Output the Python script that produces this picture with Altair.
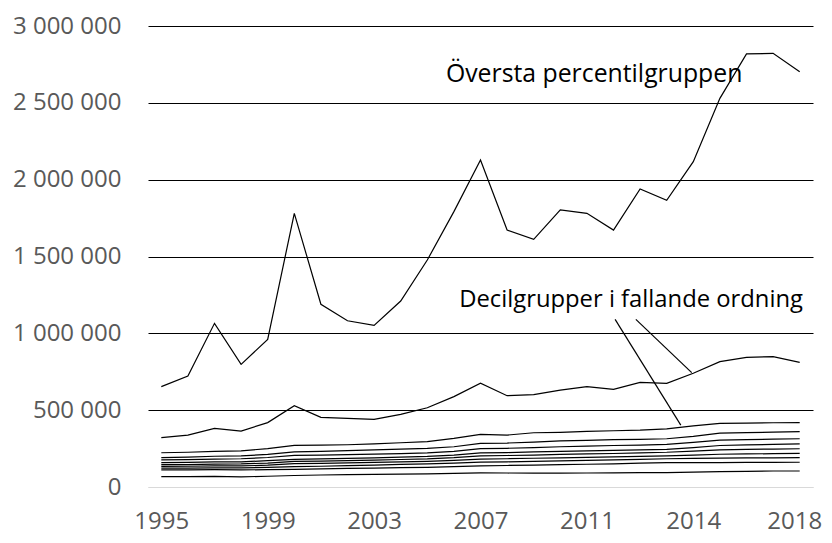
import altair as alt
import pandas as pd

# category index 0..24 along the x axis, labelled every 4th category
idx = list(range(25))
tick_pos = [0, 4, 8, 12, 16, 20, 24]
tick_labels = ["1995", "1999", "2003", "2007", "2011", "2014", "2018"]

top_pct = [653000, 722000, 1065000, 798000, 961000, 1781000, 1189000, 1082000, 1052000,
           1210000, 1477000, 1792000, 2128000, 1672000, 1612000, 1803000, 1781000, 1672000,
           1939000, 1866000, 2117000, 2529000, 2818000, 2822000, 2703000]
d10 = [321000, 338000, 382000, 364000, 419000, 529000, 453000, 447000, 440000, 473000,
       516000, 588000, 675000, 594000, 601000, 631000, 653000, 636000, 681000, 675000,
       740000, 816000, 844000, 848000, 811000]
d9 = [223000, 226000, 232000, 235000, 250000, 271000, 272000, 275000, 280000, 288000,
      295000, 317000, 343000, 338000, 353000, 356000, 362000, 366000, 370000, 378000,
      398000, 414000, 416000, 418000, 419000]
d8 = [191000, 194000, 200000, 203000, 212000, 228000, 232000, 237000, 242000, 247000,
      252000, 262000, 284000, 286000, 292000, 300000, 304000, 308000, 310000, 314000,
      330000, 350000, 354000, 357000, 360000]
d7 = [176000, 178000, 182000, 184000, 192000, 206000, 208000, 211000, 214000, 217000,
      222000, 232000, 250000, 252000, 256000, 262000, 266000, 270000, 273000, 278000,
      290000, 305000, 308000, 311000, 314000]
d6 = [158000, 160000, 163000, 164000, 171000, 180000, 183000, 186000, 190000, 194000,
      199000, 208000, 222000, 224000, 228000, 232000, 235000, 238000, 241000, 245000,
      256000, 270000, 274000, 277000, 280000]
d5 = [145000, 146000, 149000, 150000, 156000, 167000, 169000, 172000, 175000, 179000,
      183000, 191000, 203000, 205000, 208000, 212000, 215000, 218000, 222000, 226000,
      234000, 242000, 245000, 247000, 249000]
d4 = [134000, 135000, 137000, 137000, 142000, 152000, 154000, 157000, 160000, 164000,
      167000, 173000, 182000, 184000, 187000, 190000, 193000, 196000, 199000, 202000,
      208000, 213000, 215000, 217000, 219000]
d3 = [123000, 123000, 125000, 124000, 128000, 132000, 135000, 139000, 142000, 147000,
      150000, 155000, 162000, 164000, 167000, 170000, 173000, 176000, 180000, 184000,
      186000, 188000, 189000, 190000, 191000]
d2 = [112000, 112000, 113000, 111000, 113000, 115000, 118000, 121000, 123000, 126000,
      128000, 133000, 138000, 140000, 143000, 145000, 148000, 151000, 155000, 158000,
      158000, 159000, 160000, 160000, 161000]
d1 = [67000, 68000, 69000, 66000, 70000, 75000, 78000, 80000, 82000, 84000, 86000,
      89000, 92000, 91000, 90000, 90000, 91000, 92000, 93000, 94000, 97000, 100000,
      102000, 104000, 104000]

series = {"P100": top_pct, "D10": d10, "D9": d9, "D8": d8, "D7": d7, "D6": d6,
          "D5": d5, "D4": d4, "D3": d3, "D2": d2, "D1": d1}

# annotations
ann_text = ["Översta percentilgruppen", "Decilgrupper i fallande ordning"]
ann_x = [10.7, 11.2]
ann_y = [2680000, 1217000]

lead_x = [17.84, 17.06]
lead_y = [1091000, 1091000]
lead_x2 = [19.94, 19.53]
lead_y2 = [744000, 403000]

rows = []
for name, vals in series.items():
    for i, v in zip(idx, vals):
        rows.append({"s": name, "i": i, "v": v})
df = pd.DataFrame(rows)

FONT = "Open Sans"
label_expr_x = "[" + ",".join(f"'{t}'" for t in tick_labels) + "][datum.value / 4]"
last = tick_pos[-1]

x_enc = alt.X("i:Q", scale=alt.Scale(domain=[-0.5, 24.5], nice=False, zero=False),
              axis=alt.Axis(values=tick_pos, labelExpr=label_expr_x, grid=False, ticks=False,
                            domainColor="#d9d9d9", domainWidth=1, labelFontSize=24,
                            labelFont=FONT, labelColor="#595959", labelPadding=22,
                            labelAlign={"condition": {"test": f"datum.value === {last}", "value": "right"},
                                        "value": "center"},
                            labelOffset={"condition": {"test": f"datum.value === {last}", "value": 22},
                                         "value": 0},
                            labelFlush=False, title=None))
y_enc = alt.Y("v:Q", scale=alt.Scale(domain=[0, 3000000], nice=False),
              axis=alt.Axis(values=[0, 500000, 1000000, 1500000, 2000000, 2500000, 3000000],
                            labelExpr="replace(format(datum.value, ','), /,/g, ' ')",
                            grid=True,
                            gridColor={"condition": {"test": "datum.value === 0", "value": "#d9d9d9"},
                                       "value": "#000000"},
                            gridWidth=1, domain=False, ticks=False, labelFontSize=24,
                            labelFont=FONT, labelColor="#595959", labelPadding=27, title=None))

lines = alt.Chart(df).mark_line(color="black", strokeWidth=1.2).encode(
    x=x_enc, y=y_enc, detail="s:N")

ann_df = pd.DataFrame({"t": ann_text, "x": ann_x, "y": ann_y})
text_top = alt.Chart(ann_df.iloc[[0]]).mark_text(align="left", baseline="middle", fontSize=24.8,
                                                 font=FONT, color="black").encode(
    x="x:Q", y="y:Q", text="t:N")
text_dec = alt.Chart(ann_df.iloc[[1]]).mark_text(align="left", baseline="middle", fontSize=23.8,
                                                 font=FONT, color="black").encode(
    x="x:Q", y="y:Q", text="t:N")

lead_df = pd.DataFrame({"x": lead_x, "y": lead_y, "x2": lead_x2, "y2": lead_y2})
leads = alt.Chart(lead_df).mark_rule(color="black", strokeWidth=1.2).encode(
    x="x:Q", y="y:Q", x2="x2:Q", y2="y2:Q")

chart = alt.layer(lines, leads, text_top, text_dec).properties(
    width=665, height=461,
    padding={"left": 140, "top": 18, "right": 11, "bottom": 48},
    autosize="none",
).configure_view(stroke=None)

chart.save("out.html", embed_options={"renderer": "svg", "actions": False})
